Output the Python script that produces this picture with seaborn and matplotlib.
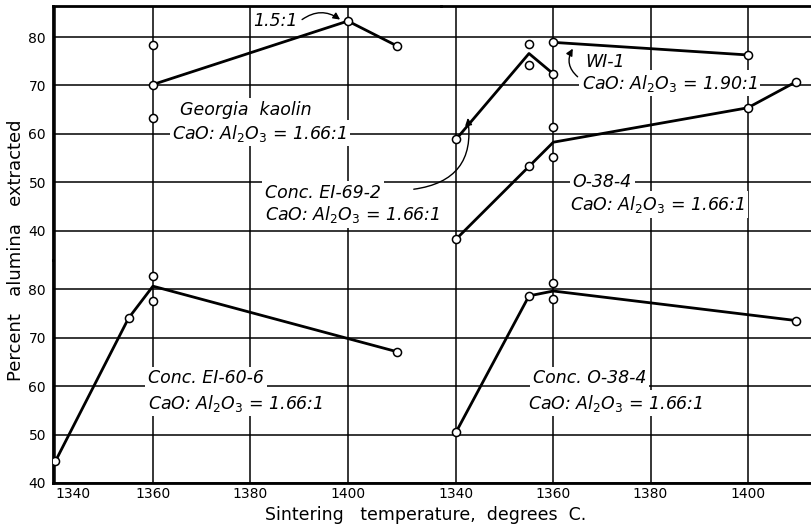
import numpy as np
import pandas as pd
import matplotlib
matplotlib.use('Agg')
import matplotlib.pyplot as plt
import seaborn as sns

# Data
temps_ticks = [1340, 1360, 1380, 1400]
pct_ticks = [40, 50, 60, 70, 80]

# top-left: Georgia kaolin
gk_line_t = [1360, 1400, 1410]
gk_line_p = [70.2, 83.3, 78.2]
gk_pts_t = [1360, 1360, 1360, 1400, 1410]
gk_pts_p = [78.4, 70.2, 63.2, 83.3, 78.2]

# top-right: Conc. EI-69-2
ei692_line_t = [1340, 1355, 1360]
ei692_line_p = [58.9, 76.6, 72.4]
ei692_pts_t = [1340, 1355, 1355, 1360]
ei692_pts_p = [58.9, 78.6, 74.2, 72.4]

# top-right: WI-1
wi1_line_t = [1360, 1400]
wi1_line_p = [78.9, 76.3]

# top-right: O-38-4
o384_line_t = [1340, 1355, 1360, 1400, 1410]
o384_line_p = [38.3, 53.3, 58.3, 65.4, 70.8]
o384_pts_t = [1340, 1355, 1360, 1360, 1400, 1410]
o384_pts_p = [38.3, 53.3, 61.5, 55.3, 65.4, 70.8]

# bottom-left: Conc. EI-60-6
ei606_line_t = [1340, 1355, 1360, 1410]
ei606_line_p = [44.5, 74.0, 80.6, 67.1]
ei606_pts_t = [1340, 1355, 1360, 1360, 1410]
ei606_pts_p = [44.5, 74.0, 82.7, 77.6, 67.1]

# bottom-right: Conc. O-38-4
co384_line_t = [1340, 1355, 1360, 1410]
co384_line_p = [50.5, 78.6, 79.6, 73.5]
co384_pts_t = [1340, 1355, 1360, 1360, 1410]
co384_pts_p = [50.5, 78.6, 81.3, 77.9, 73.5]

sns.set_style('white')
plt.rcParams['font.family'] = ['DejaVu Sans']
plt.rcParams['text.color'] = 'black'
plt.rcParams['axes.labelcolor'] = 'black'

W, H = 811, 528
fig = plt.figure(figsize=(W / 100, H / 100), dpi=100)

def px_box(x0, x1, ytop, ybot):
    return [x0 / W, 1 - ybot / H, (x1 - x0) / W, (ybot - ytop) / H]

ax_tl = fig.add_axes(px_box(53, 441, 6, 260))
ax_tr = fig.add_axes(px_box(441, 811, 6, 260))
ax_bl = fig.add_axes(px_box(53, 441, 260, 483))
ax_br = fig.add_axes(px_box(441, 811, 260, 483))

LW = 2.0
mk = dict(s=34, facecolor='white', edgecolor='black', linewidth=1.1, zorder=4)


def draw(ax, lt, lp, pt, pp):
    sns.lineplot(x=lt, y=lp, ax=ax, color='black', lw=LW, zorder=3)
    if pt:
        sns.scatterplot(x=pt, y=pp, ax=ax, **mk)


draw(ax_tl, gk_line_t, gk_line_p, gk_pts_t, gk_pts_p)
draw(ax_tr, ei692_line_t, ei692_line_p, ei692_pts_t, ei692_pts_p)
draw(ax_tr, wi1_line_t, wi1_line_p, wi1_line_t, wi1_line_p)
draw(ax_tr, o384_line_t, o384_line_p, o384_pts_t, o384_pts_p)
draw(ax_bl, ei606_line_t, ei606_line_p, ei606_pts_t, ei606_pts_p)
draw(ax_br, co384_line_t, co384_line_p, co384_pts_t, co384_pts_p)

for ax in [ax_tl, ax_bl]:
    ax.set_xlim(1339.5, 1419.1)
for ax in [ax_tr, ax_br]:
    ax.set_xlim(1336.9, 1413.0)
for ax in [ax_tl, ax_tr]:
    ax.set_ylim(34.0, 86.4)
for ax in [ax_bl, ax_br]:
    ax.set_ylim(40.0, 86.0)

for ax in [ax_tl, ax_tr, ax_bl, ax_br]:
    ax.set_xticks(temps_ticks, labels=[str(t) for t in temps_ticks])
    ax.set_yticks(pct_ticks, labels=[str(p) for p in pct_ticks])
    ax.grid(True, color='black', lw=1.1)
    ax.set_axisbelow(True)
    ax.tick_params(length=0, labelsize=10, colors='black')
    ax.tick_params(axis='y', pad=5)
    ax.tick_params(axis='x', pad=3)
    ax.set_xlabel('')
    ax.set_ylabel('')
    ax.patch.set_alpha(0)
    for s in ax.spines.values():
        s.set_visible(False)
        s.set_color('black')
        s.set_linewidth(2)

ax_tl.spines['top'].set_visible(True)
ax_tr.spines['top'].set_visible(True)
ax_tl.spines['left'].set_visible(True)
ax_bl.spines['left'].set_visible(True)
ax_bl.spines['bottom'].set_visible(True)
ax_br.spines['bottom'].set_visible(True)

ax_tl.tick_params(labelbottom=False)
ax_tr.tick_params(labelbottom=False, labelleft=False)
ax_br.tick_params(labelleft=False)
# first label sits just right of the corner, clear of the "40"
ax_bl.get_xticklabels()[0].set_horizontalalignment('left')

box = dict(facecolor='white', edgecolor='none', pad=2)
FS = 12.5
tkw = dict(fontsize=FS, style='italic', bbox=box, zorder=5, va='center', ha='left',
           color='black')
ratio = 'CaO: Al$_2$O$_3$ = 1.66:1'
arrow = dict(arrowstyle='-|>', color='black', lw=1, shrinkA=0, shrinkB=0,
             mutation_scale=10)

# top-left labels
ax_tl.text(1365.5, 65.0, 'Georgia  kaolin', **tkw)
ax_tl.text(1364.0, 60.2, ratio, **tkw)
ax_tl.text(1385.2, 83.3, '1.5:1', fontsize=FS, style='italic', ha='center',
           va='center', zorder=5, color='black')
ax_tl.annotate('', xy=(1398.4, 83.6), xytext=(1390.6, 83.6),
               arrowprops=dict(arrow, connectionstyle='arc3,rad=-0.35'))

# top-right labels (text spans onto the left panel)
ax_tr.text(1383.0, 47.8, 'Conc. EI-69-2', transform=ax_tl.transData, **tkw)
ax_tr.text(1383.0, 43.4, ratio, transform=ax_tl.transData, **tkw)
ax_tr.annotate('', xy=(1342.4, 63.3), xytext=(1331.3, 48.6),
               annotation_clip=False,
               arrowprops=dict(arrow, connectionstyle='arc3,rad=0.5'))
ax_tr.text(1366.5, 74.8, 'WI-1', **tkw)
ax_tr.text(1365.8, 70.5, 'CaO: Al$_2$O$_3$ = 1.90:1', **tkw)
ax_tr.annotate('', xy=(1364.0, 77.6), xytext=(1365.0, 71.8),
               arrowprops=dict(arrow, connectionstyle='arc3,rad=-0.4'))
ax_tr.text(1364.0, 50.0, 'O-38-4', **tkw)
ax_tr.text(1363.4, 45.5, ratio, **tkw)

# bottom labels
ax_bl.text(1359.0, 61.6, 'Conc. EI-60-6', **tkw)
ax_bl.text(1359.0, 56.5, ratio, **tkw)
ax_br.text(1355.8, 61.6, 'Conc. O-38-4', **tkw)
ax_br.text(1354.8, 56.5, ratio, **tkw)

fig.text(426 / W, 1 - 515 / H, 'Sintering   temperature,  degrees  C.',
         ha='center', va='center', fontsize=12.5)
fig.text(16 / W, 1 - 250 / H, 'Percent   alumina   extracted', rotation=90,
         ha='center', va='center', fontsize=13)

fig.savefig('out.png', dpi=100, facecolor='white')
